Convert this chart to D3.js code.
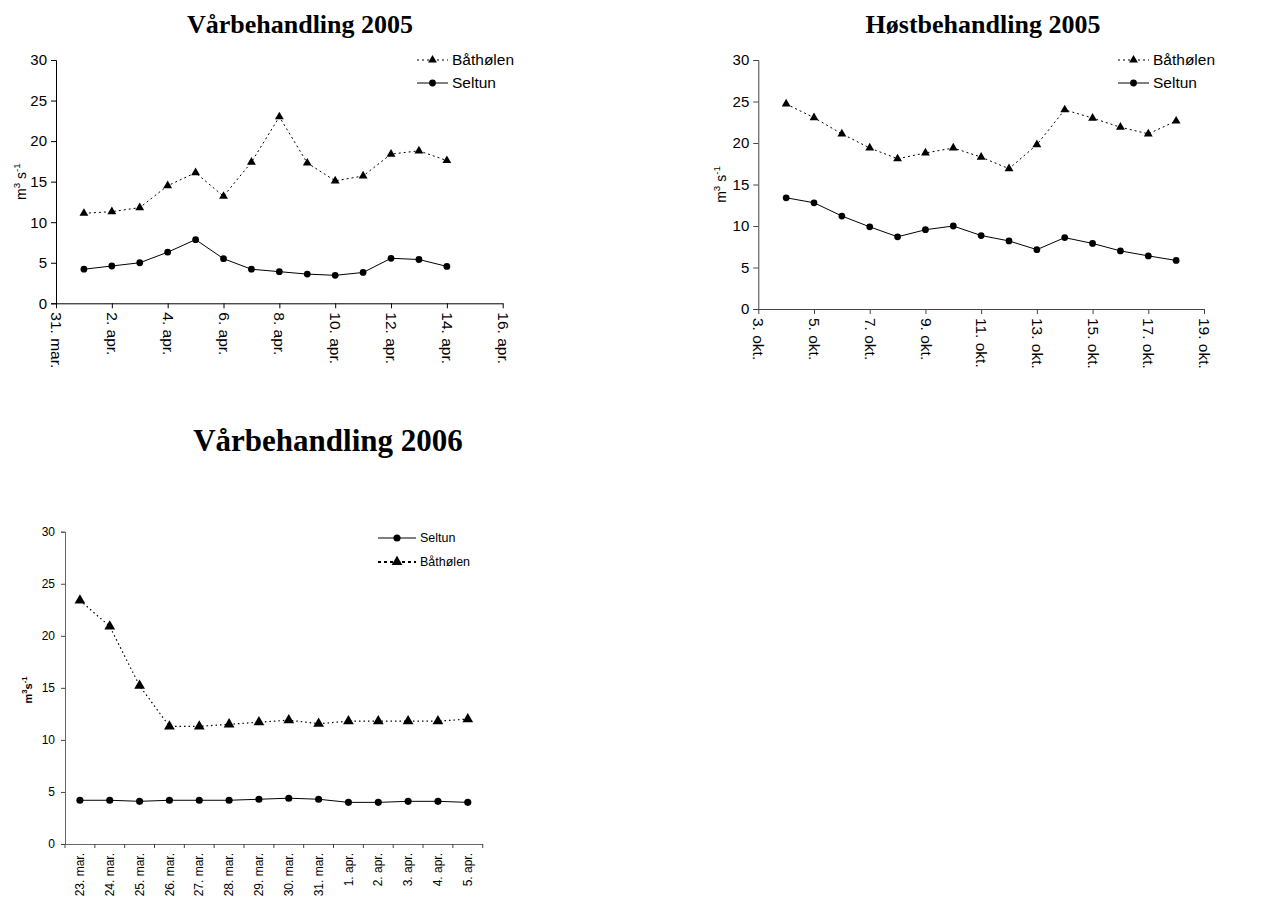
<!DOCTYPE html>
<html>
<head>
<meta charset="utf-8">
<script src="https://cdn.jsdelivr.net/npm/d3@7"></script>
<style>
  body { margin: 0; background: #fff; }
  svg { display: block; }
  .tick text { font-family: "Liberation Sans", Arial, sans-serif; fill: #000; }
</style>
</head>
<body>
<svg id="chart" width="1271" height="902"></svg>
<script>
// Vårbehandling 2005 (1.-14. apr.)
const days2005v = ["2005-04-01","2005-04-02","2005-04-03","2005-04-04","2005-04-05","2005-04-06","2005-04-07",
  "2005-04-08","2005-04-09","2005-04-10","2005-04-11","2005-04-12","2005-04-13","2005-04-14"];
const bathølen2005v = [11.1, 11.3, 11.8, 14.5, 16.1, 13.2, 17.4, 23.0, 17.3, 15.1, 15.7, 18.4, 18.8, 17.6];
const seltun2005v = [4.2, 4.6, 5.0, 6.3, 7.85, 5.5, 4.2, 3.9, 3.6, 3.45, 3.8, 5.55, 5.4, 4.55];
const ticks2005v = ["2005-03-31","2005-04-02","2005-04-04","2005-04-06","2005-04-08","2005-04-10","2005-04-12","2005-04-14","2005-04-16"];

// Høstbehandling 2005 (4.-18. okt.)
const days2005h = ["2005-10-04","2005-10-05","2005-10-06","2005-10-07","2005-10-08","2005-10-09","2005-10-10","2005-10-11",
  "2005-10-12","2005-10-13","2005-10-14","2005-10-15","2005-10-16","2005-10-17","2005-10-18"];
const bathølen2005h = [24.7, 23.05, 21.1, 19.4, 18.1, 18.8, 19.4, 18.3, 16.9, 19.8, 24.0, 23.0, 21.9, 21.1, 22.65];
const seltun2005h = [13.4, 12.8, 11.2, 9.9, 8.7, 9.55, 10.0, 8.85, 8.2, 7.15, 8.6, 7.9, 7.0, 6.4, 5.85];
const ticks2005h = ["2005-10-03","2005-10-05","2005-10-07","2005-10-09","2005-10-11","2005-10-13","2005-10-15","2005-10-17","2005-10-19"];

// Vårbehandling 2006 (kategorier)
const cats2006 = ["23. mar.","24. mar.","25. mar.","26. mar.","27. mar.","28. mar.","29. mar.","30. mar.","31. mar.",
  "1. apr.","2. apr.","3. apr.","4. apr.","5. apr."];
const seltun2006 = [4.2, 4.2, 4.1, 4.2, 4.2, 4.2, 4.3, 4.4, 4.3, 4.0, 4.0, 4.1, 4.1, 4.0];
const bathølen2006 = [23.4, 20.9, 15.2, 11.3, 11.3, 11.5, 11.7, 11.9, 11.55, 11.8, 11.8, 11.8, 11.8, 12.0];

const yTicks = [0, 5, 10, 15, 20, 25, 30];
const monthNames = ["jan","feb","mar","apr","mai","jun","jul","aug","sep","okt","nov","des"];

const svg = d3.select("#chart");
const parse = d3.utcParse("%Y-%m-%d");
const fmtDay = d => `${d.getUTCDate()}. ${monthNames[d.getUTCMonth()]}.`;

const triangle = d3.symbol().type(d3.symbolTriangle).size(34);
const circle = d3.symbol().type(d3.symbolCircle).size(36);

function yLabel(g, x, y, size, bold) {
  const t = g.append("text")
    .attr("transform", `translate(${x},${y}) rotate(-90)`)
    .attr("text-anchor", "middle")
    .style("font-family", "Liberation Sans, Arial, sans-serif")
    .style("font-size", size + "px")
    .style("font-weight", bold ? "bold" : "normal");
  t.append("tspan").text("m");
  t.append("tspan").attr("dy", -size * 0.45).style("font-size", (size * 0.7) + "px").text("3");
  t.append("tspan").attr("dy", size * 0.45).text(bold ? "s" : " s");
  t.append("tspan").attr("dy", -size * 0.45).style("font-size", (size * 0.7) + "px").text("-1");
}

function title(x, y, txt, size) {
  svg.append("text")
    .attr("x", x).attr("y", y)
    .attr("text-anchor", "middle")
    .style("font-family", "Liberation Serif, 'Times New Roman', serif")
    .style("font-weight", "bold")
    .style("font-size", size + "px")
    .text(txt);
}

function series(g, xs, vals, x, y, dashed, marker, dash, width) {
  const line = d3.line().x((d, i) => x(xs[i])).y(d => y(d));
  g.append("path").datum(vals)
    .attr("d", line)
    .attr("fill", "none")
    .attr("stroke", "#000")
    .attr("stroke-width", width)
    .attr("stroke-dasharray", dashed ? dash : null);
  g.selectAll(null).data(vals).enter().append("path")
    .attr("d", marker)
    .attr("transform", (d, i) => `translate(${x(xs[i])},${y(d)})`)
    .attr("fill", "#000");
}

function legendItem(g, x0, x1, ty, label, marker, dashed, dash, width, size) {
  g.append("line").attr("x1", x0).attr("x2", x1).attr("y1", ty).attr("y2", ty)
    .attr("stroke", "#000").attr("stroke-width", width)
    .attr("stroke-dasharray", dashed ? dash : null);
  g.append("path").attr("d", marker).attr("transform", `translate(${(x0 + x1) / 2},${ty})`);
  g.append("text").attr("x", x1 + 4).attr("y", ty).attr("dy", "0.35em")
    .style("font-family", "Liberation Sans, Arial, sans-serif")
    .style("font-size", size + "px")
    .text(label);
}

// top charts with time axis
function timeChart(opt) {
  const g = svg.append("g");
  const x = d3.scaleUtc().domain([parse(opt.ticks[0]), parse(opt.ticks[opt.ticks.length - 1])]).range([opt.left, opt.right]);
  const y = d3.scaleLinear().domain([0, 30]).range([opt.bottom, opt.top]);

  const ya = g.append("g").attr("transform", `translate(${opt.left},0)`)
    .call(d3.axisLeft(y).tickValues(yTicks).tickSize(5).tickPadding(4));
  ya.selectAll("text").style("font-size", "15px");
  ya.select(".domain").attr("stroke", opt.axisColor);
  ya.selectAll(".tick line").attr("stroke", opt.axisColor);

  const xa = g.append("g").attr("transform", `translate(0,${opt.bottom})`)
    .call(d3.axisBottom(x).tickValues(opt.ticks.map(parse)).tickFormat(fmtDay).tickSize(5).tickSizeOuter(0));
  xa.select(".domain").attr("stroke", opt.axisColor);
  xa.selectAll(".tick line").attr("stroke", opt.axisColor);
  xa.selectAll("text")
    .style("font-size", "15.5px")
    .attr("text-anchor", "start")
    .attr("transform", "rotate(90)")
    .attr("x", 9).attr("y", 0).attr("dy", "0.35em");

  const xs = opt.days.map(parse);
  series(g, xs, opt.bath, x, y, true, triangle, "2,3", 1);
  series(g, xs, opt.selt, x, y, false, circle, null, 1);

  legendItem(g, opt.legX, opt.legX + 31, 60, "Båthølen", triangle, true, "2,3", 1, 15.5);
  legendItem(g, opt.legX, opt.legX + 31, 83, "Seltun", circle, false, null, 1, 15.5);

  yLabel(g, opt.yLabX, (opt.top + opt.bottom) / 2, 14, false);
}

title(300, 33, "Vårbehandling 2005", 26);
timeChart({ days: days2005v, bath: bathølen2005v, selt: seltun2005v, ticks: ticks2005v,
  left: 56, right: 502.7, top: 60, bottom: 303.3, legX: 417, yLabX: 26, axisColor: "#000" });

title(983, 33, "Høstbehandling 2005", 26);
timeChart({ days: days2005h, bath: bathølen2005h, selt: seltun2005h, ticks: ticks2005h,
  left: 758.3, right: 1204, top: 60, bottom: 309, legX: 1118, yLabX: 726, axisColor: "#444" });

// bottom chart with category axis
(function () {
  const left = 65, right = 482.7, top = 531.7, bottom = 844;
  const g = svg.append("g");
  const x = d3.scaleBand().domain(cats2006).range([left, right]);
  const y = d3.scaleLinear().domain([0, 30]).range([bottom, top]);

  const ya = g.append("g").attr("transform", `translate(${left},0)`)
    .call(d3.axisLeft(y).tickValues(yTicks).tickSize(4).tickPadding(6));
  ya.selectAll("text").style("font-size", "12px");
  ya.select(".domain").attr("stroke", "#666");
  ya.selectAll(".tick line").attr("stroke", "#444");

  const xa = g.append("g").attr("transform", `translate(0,${bottom})`)
    .call(d3.axisBottom(x).tickSize(0).tickSizeOuter(0));
  xa.select(".domain").attr("stroke", "#666");
  xa.selectAll("text")
    .style("font-size", "12px")
    .attr("text-anchor", "end")
    .attr("transform", "rotate(-90)")
    .attr("x", -9).attr("y", 0).attr("dy", "0.35em");
  // tick marks between categories
  xa.selectAll(".sep").data(cats2006.concat([null])).enter().append("line")
    .attr("class", "sep")
    .attr("x1", (d, i) => left + i * x.step()).attr("x2", (d, i) => left + i * x.step())
    .attr("y1", 0).attr("y2", 4)
    .attr("stroke", "#444");

  const cx = c => x(c) + x.bandwidth() / 2;
  const line = (vals, dash, w) => g.append("path").datum(vals)
    .attr("d", d3.line().x((d, i) => cx(cats2006[i])).y(d => y(d)))
    .attr("fill", "none").attr("stroke", "#000").attr("stroke-width", w)
    .attr("stroke-dasharray", dash);
  line(seltun2006, null, 1);
  line(bathølen2006, "1.5,3", 1.2);
  const tri2 = d3.symbol().type(d3.symbolTriangle).size(50);
  const circ2 = d3.symbol().type(d3.symbolCircle).size(40);
  g.selectAll(null).data(seltun2006).enter().append("path")
    .attr("d", circ2).attr("transform", (d, i) => `translate(${cx(cats2006[i])},${y(d)})`);
  g.selectAll(null).data(bathølen2006).enter().append("path")
    .attr("d", tri2).attr("transform", (d, i) => `translate(${cx(cats2006[i])},${y(d)})`);

  legendItem(g, 378, 416, 538, "Seltun", circ2, false, null, 1, 12.5);
  legendItem(g, 378, 416, 562, "Båthølen", tri2, true, "3,3", 2, 12.5);

  yLabel(g, 32, 690, 11, true);
  title(328, 451, "Vårbehandling 2006", 31);
})();
</script>
</body>
</html>
